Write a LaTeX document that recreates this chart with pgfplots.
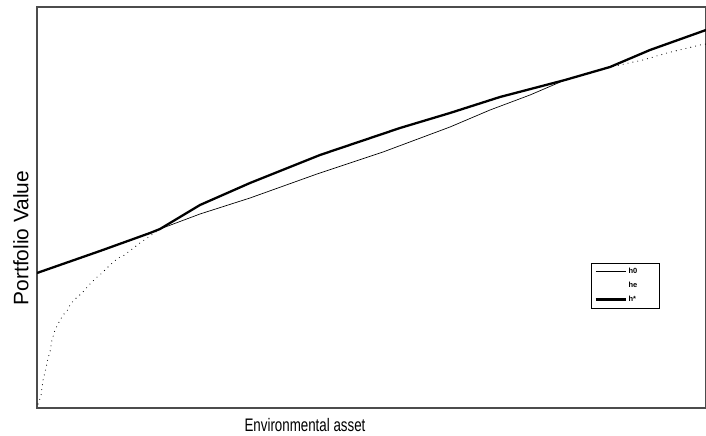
\documentclass[border=0pt]{standalone}
\usepackage{pgfplots}
\usepackage{graphicx}
\pgfplotsset{compat=1.18}
\usepackage{fontspec}
\setmainfont{Liberation Sans}
\begin{document}
\begin{tikzpicture}
\begin{axis}[
  scale only axis,
  width=669bp, height=401bp,
  xmin=37, xmax=706, ymin=0, ymax=401,
  xtick=\empty, ytick=\empty,
  axis line style={draw=black!70, line width=1.2pt},
  clip=true,
  xlabel={\scalebox{1.03}[1.4]{\fontsize{13}{15}\selectfont Environmental asset}},
  xlabel style={at={(axis cs:305,-17)}, anchor=center},
  ylabel={\fontsize{21}{23}\selectfont Portfolio Value},
  ylabel style={at={(axis cs:21,170)}, anchor=center},
  legend style={at={(axis cs:591,145)}, anchor=north west, draw=black, line width=0.8pt,
     font=\bfseries\fontsize{7.5}{8}\selectfont, inner xsep=3pt, inner ysep=3pt,
     row sep=3pt},
  legend cell align=left,
]
% h0 thin
\addplot[black, line width=0.7pt,
  legend image code/.code={\draw[black, line width=0.7pt] (0pt,0pt) -- (30bp,0pt);}]
coordinates {
(37,135) (100,157) (150,175) (160,179) (200,194) (250,210) (317,234) (383,256)
(450,281) (490,298) (530,313) (565,328) (610,341) (650,358) (706,378)
};
\addlegendentry{\makebox[26bp][l]{h0}}
% he dotted
\addplot[black, line width=1.1pt, line cap=round, dash pattern=on 0pt off 5pt,
  legend image code/.code={}]
coordinates {
(38,4) (41,12) (43,28) (46,40) (48,50) (50,56) (52,68) (55,78) (58,84) (63,93)
(67,97) (70,103) (74,108) (82,115) (89,123) (96,130) (102,135) (109,142)
(118,150) (123,152) (140,165) (160,179) (180,191) (200,203) (250,225)
(320,253) (400,280) (450,295) (500,311) (565,328) (610,341) (643,348)
(667,355) (700,363) (706,364)
};
\addlegendentry{he}
% h* thick
\addplot[black, line width=2.3pt,
  legend image code/.code={\draw[black, line width=2.3pt] (0pt,0pt) -- (30bp,0pt);}]
coordinates {
(37,135) (100,157) (150,175) (160,179) (180,191) (200,203) (250,225) (320,253)
(400,280) (450,295) (500,311) (565,328) (610,341) (650,358) (706,378)
};
\addlegendentry{h*}
\end{axis}
\pgfresetboundingbox
\path (-37bp,-28bp) rectangle (669bp,408bp);
\end{tikzpicture}
\end{document}
